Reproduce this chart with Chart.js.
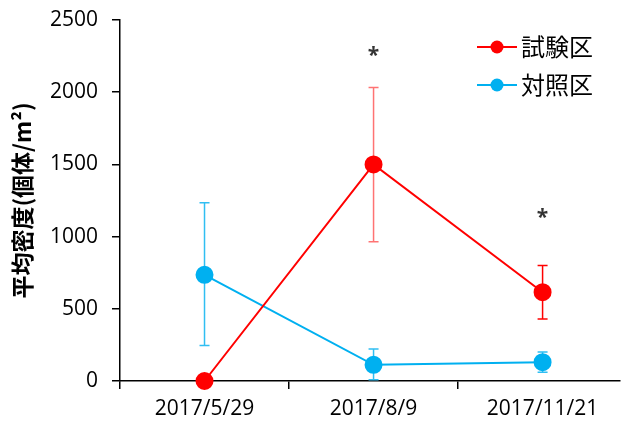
<!DOCTYPE html>
<html>
<head>
<meta charset="utf-8">
<script src="https://cdn.jsdelivr.net/npm/chart.js@4"></script>
<style>
  html, body { margin: 0; padding: 0; background: #fff; }
  #wrap { width: 621px; height: 423px; }
</style>
</head>
<body>
<div id="wrap"><canvas id="chart"></canvas></div>
<script>
const categories = ['2017/5/29', '2017/8/9', '2017/11/21'];
const seriesNames = ['試験区', '対照区'];
const testValues = [0, 1500, 615];
const testLow = [0, 965, 430];
const testHigh = [0, 2032, 800];
const controlValues = [735, 112, 130];
const controlLow = [245, 8, 60];
const controlHigh = [1235, 222, 200];
const starValues = [null, 2265, 1145];
const yTicks = [0, 500, 1000, 1500, 2000, 2500];

const font = "'Open Sans', 'Noto Sans CJK JP', sans-serif";
const jpFont = "'Noto Sans CJK JP', sans-serif";
const red = '#FF0000';
const blue = '#00B0F0';

function toPoints(values) {
  return values.map((v, i) => ({ x: i, y: v }));
}

const errorBars = {
  id: 'errorBars',
  beforeDatasetsDraw(chart) {
    const ctx = chart.ctx;
    const x = chart.scales.x;
    const y = chart.scales.y;
    const sets = [
      { low: testLow, high: testHigh, colors: [red, 'rgba(255,0,0,0.55)', red] },
      { low: controlLow, high: controlHigh, colors: ['#30BEF2', '#30BEF2', '#30BEF2'] },
    ];
    ctx.save();
    ctx.lineWidth = 1.5;
    sets.forEach(s => {
      s.low.forEach((lo, i) => {
        const hi = s.high[i];
        if (hi === lo) return;
        const px = x.getPixelForValue(i);
        const top = y.getPixelForValue(hi);
        const bot = y.getPixelForValue(lo);
        ctx.strokeStyle = s.colors[i];
        ctx.beginPath();
        ctx.moveTo(px, top); ctx.lineTo(px, bot);
        ctx.moveTo(px - 5, top); ctx.lineTo(px + 5, top);
        ctx.moveTo(px - 5, bot); ctx.lineTo(px + 5, bot);
        ctx.stroke();
      });
    });
    ctx.restore();
  },
  afterDatasetsDraw(chart) {
    const ctx = chart.ctx;
    const x = chart.scales.x;
    const y = chart.scales.y;
    ctx.save();
    // asterisks
    ctx.fillStyle = '#333';
    ctx.font = 'bold 21px ' + font;
    ctx.textAlign = 'center';
    ctx.textBaseline = 'middle';
    starValues.forEach((v, i) => {
      if (v === null) return;
      ctx.fillText('*', x.getPixelForValue(i), y.getPixelForValue(v) + 2);
    });
    // legend
    const items = chart.data.datasets.map(d => ({ label: d.label, color: d.borderColor }));
    items.forEach((it, k) => {
      const ly = 47 + k * 38;
      ctx.strokeStyle = it.color;
      ctx.lineWidth = 2;
      ctx.beginPath();
      ctx.moveTo(477, ly); ctx.lineTo(517, ly);
      ctx.stroke();
      ctx.fillStyle = it.color;
      ctx.beginPath();
      ctx.arc(497, ly, 6.5, 0, Math.PI * 2);
      ctx.fill();
      ctx.fillStyle = '#000';
      ctx.font = '24px ' + jpFont;
      ctx.textAlign = 'left';
      ctx.textBaseline = 'middle';
      ctx.fillText(it.label, 521, ly);
    });
    ctx.restore();
  }
};

const chart = new Chart(document.getElementById('chart'), {
  type: 'line',
  data: {
    datasets: [
      {
        label: seriesNames[0],
        data: toPoints(testValues),
        borderColor: red,
        backgroundColor: red,
        borderWidth: 2,
        pointRadius: 8,
        pointHoverRadius: 8,
        tension: 0,
      },
      {
        label: seriesNames[1],
        data: toPoints(controlValues),
        borderColor: blue,
        backgroundColor: blue,
        borderWidth: 2,
        pointRadius: 8,
        pointHoverRadius: 8,
        tension: 0,
      },
    ],
  },
  options: {
    responsive: true,
    maintainAspectRatio: false,
    animation: false,
    clip: false,
    layout: { autoPadding: false, padding: { top: 20, right: 1, left: 0, bottom: 0 } },
    plugins: {
      legend: { display: false },
      tooltip: { enabled: false },
    },
    scales: {
      x: {
        type: 'linear',
        min: -0.5,
        max: 2.458,
        afterBuildTicks(scale) {
          scale.ticks = [-0.5, 0, 0.5, 1, 1.5, 2].map(v => ({ value: v }));
        },
        afterFit(scale) {
          scale.height = 42;
          scale.paddingLeft = 0;
          scale.paddingRight = 0;
        },
        border: { color: '#000', width: 1.5 },
        grid: {
          drawOnChartArea: false,
          tickLength: 8,
          lineWidth: 1.5,
          tickColor: ctx => (ctx.tick && Number.isInteger(ctx.tick.value)) ? 'rgba(0,0,0,0)' : '#000',
        },
        ticks: {
          autoSkip: false,
          maxRotation: 0,
          padding: 7,
          color: '#000',
          font: { family: font, size: 21 },
          callback: v => Number.isInteger(v) ? categories[v] : '',
        },
      },
      y: {
        min: 0,
        max: 2500,
        afterBuildTicks(scale) {
          scale.ticks = yTicks.map(v => ({ value: v }));
        },
        afterFit(scale) {
          scale.width = 120;
          scale.paddingTop = 0;
          scale.paddingBottom = 0;
        },
        border: { color: '#000', width: 1.5 },
        grid: {
          drawOnChartArea: false,
          tickLength: 8,
          lineWidth: 1.5,
          tickColor: '#000',
        },
        ticks: {
          padding: 14,
          color: '#000',
          font: { family: font, size: 21 },
          callback: v => String(v),
        },
        title: {
          display: true,
          text: '平均密度(個体/m²)',
          color: '#000',
          font: { family: jpFont, size: 23, weight: 'bold' },
          padding: { top: 8, bottom: 0 },
        },
      },
    },
  },
  plugins: [errorBars],
});
</script>
</body>
</html>
